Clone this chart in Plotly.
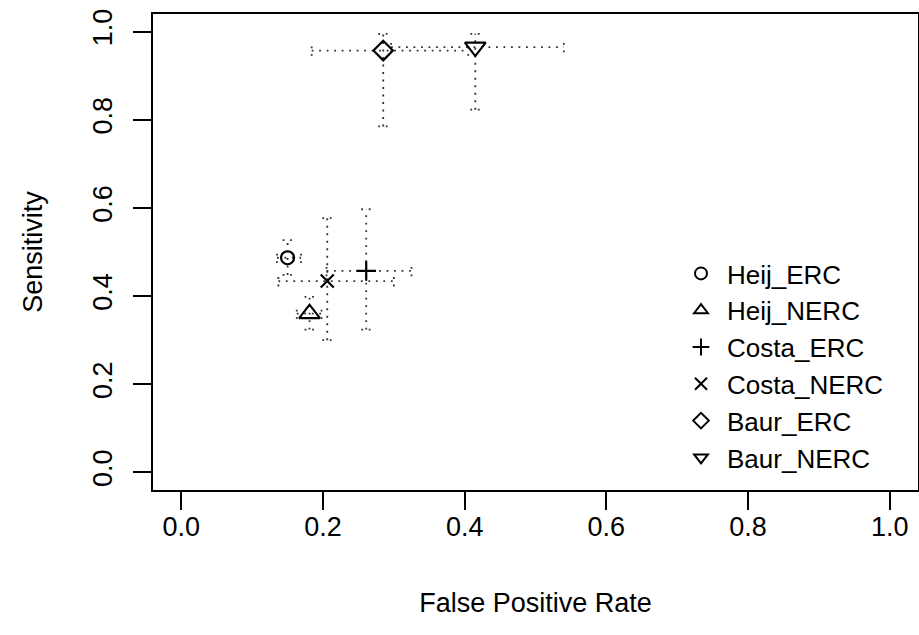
import plotly.graph_objects as go

# ---- data ----
names = ["Heij_ERC", "Heij_NERC", "Costa_ERC", "Costa_NERC", "Baur_ERC", "Baur_NERC"]
fpr = [0.150, 0.181, 0.261, 0.206, 0.285, 0.415]
fpr_lo = [0.135, 0.163, 0.205, 0.137, 0.184, 0.296]
fpr_hi = [0.169, 0.198, 0.325, 0.300, 0.405, 0.540]
sens = [0.487, 0.360, 0.457, 0.434, 0.957, 0.965]
sens_lo = [0.448, 0.324, 0.324, 0.300, 0.785, 0.823]
sens_hi = [0.527, 0.398, 0.597, 0.577, 0.995, 0.995]
symbols = ["circle-open", "triangle-up-open", "cross-thin-open", "x-thin-open",
           "diamond-open", "triangle-down-open"]
sizes = [13, 18, 14, 13, 15, 18]

x_ticks = [0.0, 0.2, 0.4, 0.6, 0.8, 1.0]
y_ticks = [0.0, 0.2, 0.4, 0.6, 0.8, 1.0]

CAPX = 0.007   # cap half-length in x data units
CAPY = 0.012   # cap half-length in y data units

FONT = "Liberation Sans, Arial, sans-serif"
W, H = 919, 635
ML, MR, MT, MB = 153, 1, 14, 145
PW, PH = W - ML - MR, H - MT - MB

fig = go.Figure()

# dotted confidence intervals with small caps
for i, n in enumerate(names):
    xs, ys = [], []
    xs += [fpr_lo[i], fpr_hi[i], None]
    ys += [sens[i], sens[i], None]
    xs += [fpr_lo[i], fpr_lo[i], None, fpr_hi[i], fpr_hi[i], None]
    ys += [sens[i] - CAPY, sens[i] + CAPY, None, sens[i] - CAPY, sens[i] + CAPY, None]
    xs += [fpr[i], fpr[i], None]
    ys += [sens_lo[i], sens_hi[i], None]
    xs += [fpr[i] - CAPX, fpr[i] + CAPX, None, fpr[i] - CAPX, fpr[i] + CAPX, None]
    ys += [sens_lo[i], sens_lo[i], None, sens_hi[i], sens_hi[i], None]
    fig.add_trace(go.Scatter(
        x=xs, y=ys, mode="lines", showlegend=False, hoverinfo="skip",
        line=dict(color="#333333", width=1.8, dash="1.8px,5.7px"),
    ))

for i, n in enumerate(names):
    fig.add_trace(go.Scatter(
        x=[fpr[i]], y=[sens[i]], mode="markers", name=n,
        marker=dict(symbol=symbols[i], size=sizes[i], color="black",
                    line=dict(color="black", width=2.2)),
    ))

axis_common = dict(
    showgrid=False, zeroline=False, showline=True, mirror=True, automargin=False,
    linecolor="black", linewidth=1.5, ticks="outside", ticklen=18,
    tickwidth=1.5, tickcolor="black",
    tickfont=dict(family=FONT, size=27, color="black"),
)

fig.update_layout(
    width=W, height=H,
    margin=dict(l=ML, r=MR, t=MT, b=MB, autoexpand=False),
    paper_bgcolor="white", plot_bgcolor="white",
    font=dict(family=FONT, color="black"),
    xaxis=dict(range=[-0.04, 1.04], tickvals=x_ticks,
               ticktext=[f"{v:.1f}" for v in x_ticks], ticklabelstandoff=-6,
               title=dict(text="False Positive Rate", font=dict(size=27), standoff=52),
               **axis_common),
    yaxis=dict(range=[-0.04, 1.04], tickvals=y_ticks,
               ticktext=[f"{v:.1f}" for v in y_ticks], tickangle=-90,
               ticklabelstandoff=10,
               title=dict(text="Sensitivity", font=dict(size=27), standoff=38),
               **axis_common),
    legend=dict(x=(675 - ML) / PW, y=(H - MB - 250) / PH,
                xanchor="left", yanchor="top",
                font=dict(family=FONT, size=26, color="black"),
                bgcolor="rgba(0,0,0,0)", itemsizing="constant",
                itemwidth=42),
    showlegend=True,
)

fig.write_html("out.html", config={"displayModeBar": False},
               post_script="document.body.style.margin='0';document.body.style.overflow='hidden';")
